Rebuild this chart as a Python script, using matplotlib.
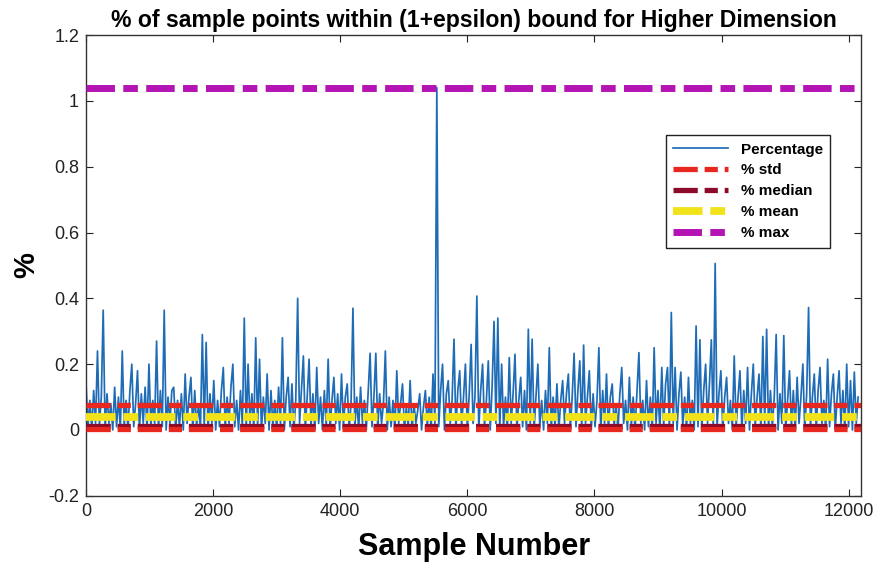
import matplotlib
matplotlib.use('Agg')
import matplotlib.pyplot as plt
import numpy as np

# percentage per sample (one value every 30 samples)
sample_step = 30
pct = [
    0.14, 0.01, 0.09, 0.0, 0.12, 0.02, 0.24, 0.01, 0.1, 0.364, 0.0, 0.11, 0.02, 0.08, 0.0, 0.13, 0.01, 0.1, 0.0, 0.24,
    0.01, 0.09, 0.0, 0.12, 0.2, 0.01, 0.08, 0.18, 0.0, 0.11, 0.02, 0.13, 0.0, 0.2, 0.01, 0.09, 0.02, 0.27, 0.0, 0.12,
    0.01, 0.364, 0.0, 0.1, 0.02, 0.12, 0.13, 0.0, 0.09, 0.01, 0.11, 0.0, 0.17, 0.02, 0.1, 0.16, 0.0, 0.12, 0.01, 0.08,
    0.0, 0.29, 0.01, 0.266, 0.0, 0.11, 0.02, 0.15, 0.0, 0.09, 0.01, 0.12, 0.19, 0.0, 0.1, 0.02, 0.13, 0.2, 0.01, 0.09,
    0.0, 0.12, 0.01, 0.34, 0.0, 0.2, 0.02, 0.11, 0.0, 0.28, 0.01, 0.215, 0.0, 0.1, 0.02, 0.17, 0.0, 0.12, 0.01, 0.09,
    0.0, 0.13, 0.02, 0.28, 0.0, 0.1, 0.16, 0.01, 0.14, 0.0, 0.09, 0.40, 0.02, 0.12, 0.225, 0.0, 0.1, 0.215, 0.01, 0.11,
    0.0, 0.19, 0.02, 0.1, 0.0, 0.12, 0.01, 0.215, 0.0, 0.09, 0.16, 0.02, 0.11, 0.0, 0.17, 0.01, 0.1, 0.14, 0.0, 0.08,
    0.37, 0.01, 0.1, 0.0, 0.13, 0.02, 0.09, 0.0, 0.12, 0.233, 0.01, 0.1, 0.233, 0.0, 0.11, 0.02, 0.08, 0.24, 0.0, 0.1,
    0.01, 0.09, 0.0, 0.18, 0.02, 0.08, 0.14, 0.0, 0.07, 0.01, 0.15, 0.0, 0.08, 0.02, 0.06, 0.11, 0.0, 0.07, 0.12, 0.01,
    0.1, 0.0, 0.17, 0.02, 1.04, 0.01, 0.12, 0.2, 0.0, 0.11, 0.15, 0.02, 0.09, 0.276, 0.0, 0.12, 0.18, 0.01, 0.1, 0.2,
    0.0, 0.11, 0.26, 0.02, 0.1, 0.407, 0.0, 0.12, 0.2, 0.01, 0.09, 0.21, 0.0, 0.13, 0.33, 0.02, 0.34, 0.0, 0.2, 0.01,
    0.1, 0.0, 0.22, 0.02, 0.11, 0.23, 0.0, 0.09, 0.16, 0.01, 0.12, 0.0, 0.306, 0.02, 0.276, 0.0, 0.1, 0.2, 0.01, 0.09,
    0.0, 0.12, 0.02, 0.25, 0.0, 0.1, 0.01, 0.14, 0.0, 0.09, 0.15, 0.02, 0.11, 0.17, 0.0, 0.1, 0.233, 0.01, 0.12, 0.21,
    0.0, 0.258, 0.02, 0.1, 0.18, 0.0, 0.11, 0.01, 0.09, 0.25, 0.0, 0.12, 0.02, 0.17, 0.0, 0.1, 0.14, 0.01, 0.08, 0.0,
    0.11, 0.19, 0.02, 0.09, 0.0, 0.16, 0.01, 0.1, 0.0, 0.12, 0.235, 0.02, 0.09, 0.0, 0.15, 0.01, 0.1, 0.0, 0.25, 0.02,
    0.12, 0.0, 0.19, 0.01, 0.14, 0.19, 0.0, 0.357, 0.02, 0.19, 0.0, 0.11, 0.176, 0.01, 0.1, 0.0, 0.16, 0.02, 0.09, 0.0,
    0.316, 0.01, 0.274, 0.0, 0.12, 0.2, 0.02, 0.14, 0.274, 0.0, 0.506, 0.01, 0.11, 0.18, 0.0, 0.1, 0.16, 0.02, 0.09, 0.0,
    0.225, 0.01, 0.1, 0.18, 0.0, 0.12, 0.02, 0.19, 0.0, 0.11, 0.2, 0.01, 0.1, 0.17, 0.0, 0.284, 0.02, 0.306, 0.0, 0.12,
    0.01, 0.1, 0.29, 0.0, 0.11, 0.02, 0.287, 0.0, 0.09, 0.18, 0.01, 0.12, 0.0, 0.16, 0.02, 0.1, 0.2, 0.0, 0.11, 0.372,
    0.01, 0.1, 0.17, 0.0, 0.12, 0.19, 0.02, 0.09, 0.0, 0.215, 0.01, 0.11, 0.17, 0.0, 0.1, 0.18, 0.02, 0.12, 0.0, 0.2,
    0.01, 0.15, 0.0, 0.176, 0.02, 0.1,
]

# summary levels as drawn in the figure
pct_mean = 0.04
pct_std = 0.036
pct_median = 0.012
pct_max = 1.04

x_max = 12200
x_ticks = [0, 2000, 4000, 6000, 8000, 10000, 12000]
y_ticks = [-0.2, 0, 0.2, 0.4, 0.6, 0.8, 1.0, 1.2]
y_ticklabels = ['-0.2', '0', '0.2', '0.4', '0.6', '0.8', '1', '1.2']

plt.rcParams['font.family'] = ['Liberation Sans', 'DejaVu Sans']

fig = plt.figure(figsize=(8.78, 5.66), dpi=100)
ax = fig.add_axes([0.098, 0.124, 0.883, 0.814])

samples = np.arange(len(pct)) * sample_step
ax.plot(samples, pct, color='#1f6cb6', lw=1.25, label='Percentage', zorder=2)

span = [0, x_max]
dash_red = (4.6, 1.3, 2.5, 1.3)
ax.plot(span, [pct_mean + pct_std] * 2, color='#e8281e', lw=3.8,
        dashes=dash_red, label='% std', zorder=4)
ax.plot(span, [pct_median] * 2, color='#8c0a2a', lw=3.8,
        dashes=dash_red, label='% median', zorder=3)
ax.plot(span, [pct_mean - pct_std] * 2, color='#e8281e', lw=3.8,
        dashes=dash_red, zorder=4)
ax.plot(span, [pct_mean] * 2, color='#f2e21a', lw=5.6,
        dashes=(3.8, 1.0, 1.9, 1.0), label='% mean', zorder=5)
ax.plot(span, [pct_max] * 2, color='#b414b4', lw=5.0,
        dashes=(4.1, 1.2, 2.1, 1.2), label='% max', zorder=3)

ax.set_xlim(0, x_max)
ax.set_ylim(-0.2, 1.2)
ax.set_xticks(x_ticks)
ax.set_yticks(y_ticks)
ax.set_yticklabels(y_ticklabels)
ax.tick_params(direction='in', top=True, right=True, labelsize=13,
               length=5, width=0.8, colors='#222222', pad=5)
for s in ax.spines.values():
    s.set_linewidth(1.0)
    s.set_color('#333333')

ax.set_title('% of sample points within (1+epsilon) bound for Higher Dimension',
             fontsize=16.6, fontweight='bold', pad=6)
ax.set_xlabel('Sample Number', fontsize=22, fontweight='bold', labelpad=9)
ax.set_ylabel('%', fontsize=21, fontweight='bold', labelpad=6)

leg = ax.legend(loc='upper left', bbox_to_anchor=(0.738, 0.80),
                handlelength=3.6, fancybox=False, framealpha=1,
                edgecolor='#222222', borderpad=0.5, labelspacing=0.45,
                prop={'weight': 'bold', 'size': 11})
leg.get_frame().set_linewidth(1.0)

plt.savefig('out.png', dpi=100)
